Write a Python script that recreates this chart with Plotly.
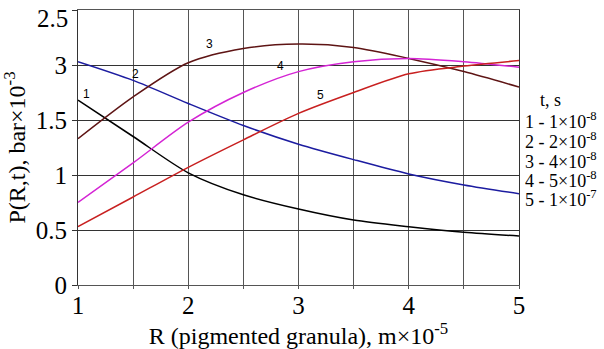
import plotly.graph_objects as go

R = [1, 1.5, 2, 2.5, 3, 3.5, 4, 4.5, 5]
p1 = [1.68, 1.35, 1.02, 0.82, 0.69, 0.59, 0.53, 0.48, 0.445]
p2 = [2.03, 1.86, 1.65, 1.45, 1.28, 1.14, 1.01, 0.91, 0.83]
p3 = [1.33, 1.71, 2.02, 2.15, 2.19, 2.16, 2.06, 1.94, 1.80]
p4 = [0.75, 1.11, 1.48, 1.75, 1.94, 2.03, 2.06, 2.03, 1.98]
p5 = [0.53, 0.80, 1.07, 1.32, 1.56, 1.75, 1.92, 1.99, 2.04]

series = [("1", p1, "#000000"), ("2", p2, "#1c1ca0"), ("3", p3, "#5e1414"),
          ("4", p4, "#d424d4"), ("5", p5, "#c82020")]

x_tickvals = [1, 1.5, 2, 2.5, 3, 3.5, 4, 4.5, 5]
x_ticktext = ["1", "", "2", "", "3", "", "4", "", "5"]
y_tickvals = [0, 0.5, 1, 1.5, 2, 2.5]
y_ticktext = ["0", "0.5", "1", "1.5", "3", ""]
top_label = "2.5"

curve_labels = [("1", 1.08, 1.74), ("2", 1.52, 1.92), ("3", 2.19, 2.19),
                ("4", 2.84, 1.99), ("5", 3.2, 1.73)]

legend_lines = ["t, s", "1 - 1×10<sup>-8</sup>", "2 - 2×10<sup>-8</sup>",
                "3 - 4×10<sup>-8</sup>", "4 - 5×10<sup>-8</sup>", "5 - 1×10<sup>-7</sup>"]

serif = "Liberation Serif, Times New Roman, serif"

fig = go.Figure()
for name, ys, col in series:
    fig.add_trace(go.Scatter(x=R, y=ys, mode="lines", name=name,
                             line=dict(color=col, width=1.5, shape="spline", smoothing=0.8),
                             showlegend=False))

for txt, xv, yv in curve_labels:
    fig.add_annotation(x=xv, y=yv, text=txt, showarrow=False,
                       font=dict(family="Liberation Sans, Arial, sans-serif", size=12, color="#000"))

fig.add_annotation(xref="paper", yref="paper", x=0, y=1, xanchor="right", yanchor="middle",
                   xshift=-8, yshift=-8, text=top_label, showarrow=False,
                   font=dict(family=serif, size=25, color="#000"))

ys_px = [100, 120, 140, 160, 179, 198]
for i, t in enumerate(legend_lines):
    xpos = 538 if i == 0 else 523
    fig.add_annotation(xref="paper", yref="paper",
                       x=(xpos - 78) / (519 - 78), y=(285 - ys_px[i]) / (285 - 10),
                       xanchor="left", yanchor="middle", text=t, showarrow=False,
                       font=dict(family=serif, size=18, color="#000"))

fig.update_layout(
    width=604, height=349,
    margin=dict(l=78, r=85, t=10, b=64),
    paper_bgcolor="white", plot_bgcolor="white",
    font=dict(family=serif, color="#000"),
)
fig.update_xaxes(range=[1, 5], tickvals=x_tickvals, ticktext=x_ticktext,
                 showgrid=True, gridcolor="#555", gridwidth=1,
                 showline=True, linecolor="#555", linewidth=1, mirror=True,
                 ticks="outside", ticklen=3, tickcolor="#555",
                 ticklabelstandoff=-5,
                 tickfont=dict(family=serif, size=25, color="#000"),
                 title=dict(text="R (pigmented granula), m×10<sup>-5</sup>",
                            font=dict(family=serif, size=24, color="#000"), standoff=4),
                 zeroline=False, automargin=False)
fig.update_yaxes(range=[0, 2.5], tickvals=y_tickvals, ticktext=y_ticktext,
                 showgrid=True, gridcolor="#333", gridwidth=1,
                 showline=True, linecolor="#333", linewidth=1, mirror=True,
                 ticks="outside", ticklen=5, tickcolor="#333",
                 tickfont=dict(family=serif, size=25, color="#000"),
                 title=dict(text="P(R,t), bar×10<sup>-3</sup>",
                            font=dict(family=serif, size=24, color="#000"), standoff=6),
                 zeroline=False, automargin=False)

fig.write_html("out.html")
